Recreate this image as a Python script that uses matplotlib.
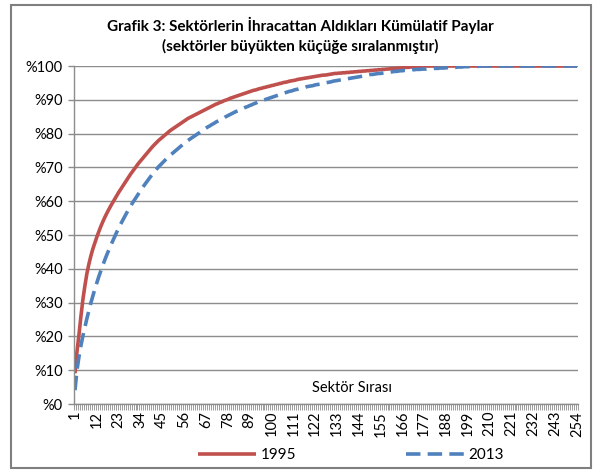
import matplotlib
matplotlib.use("Agg")
import matplotlib.pyplot as plt
from matplotlib.patches import Rectangle
from matplotlib.ticker import FixedLocator, FuncFormatter

# cumulative export share (%) by sector rank, sectors sorted large -> small
shares_1995 = [
    9.1, 15.5, 20.5, 26.0, 31.0, 35.0, 38.6, 41.4, 43.8, 45.9,
    47.7, 49.4, 51.0, 52.5, 53.9, 55.2, 56.4, 57.5, 58.6, 59.6,
    60.6, 61.6, 62.6, 63.5, 64.4, 65.3, 66.2, 67.1, 68.0, 68.8,
    69.6, 70.4, 71.2, 71.9, 72.6, 73.3, 74.0, 74.7, 75.4, 76.1,
    76.7, 77.3, 77.9, 78.4, 78.9, 79.4, 79.9, 80.4, 80.9, 81.3,
    81.7, 82.1, 82.5, 82.9, 83.3, 83.7, 84.1, 84.5, 84.8, 85.1,
    85.4, 85.7, 86.0, 86.3, 86.6, 86.9, 87.2, 87.5, 87.8, 88.1,
    88.4, 88.7, 88.9, 89.2, 89.4, 89.7, 89.9, 90.1, 90.4, 90.6,
    90.8, 91.0, 91.2, 91.4, 91.6, 91.8, 92.0, 92.2, 92.4, 92.6,
    92.8, 92.9, 93.1, 93.3, 93.4, 93.6, 93.7, 93.9, 94.0, 94.2,
    94.3, 94.5, 94.6, 94.8, 94.9, 95.1, 95.2, 95.3, 95.5, 95.6,
    95.7, 95.8, 96.0, 96.1, 96.2, 96.3, 96.4, 96.5, 96.6, 96.7,
    96.8, 96.9, 97.0, 97.1, 97.2, 97.3, 97.3, 97.4, 97.5, 97.6,
    97.7, 97.8, 97.8, 97.9, 97.9, 98.0, 98.0, 98.1, 98.1, 98.2,
    98.2, 98.3, 98.3, 98.4, 98.4, 98.5, 98.5, 98.6, 98.6, 98.7,
    98.7, 98.8, 98.8, 98.9, 98.9, 99.0, 99.0, 99.1, 99.1, 99.2,
    99.2, 99.3, 99.3, 99.4, 99.4, 99.5, 99.5, 99.6, 99.6, 99.7,
    99.7, 99.8, 99.8, 99.9, 99.9, 100.0, 100.0, 100.0, 100.0, 100.0,
    100.0, 100.0, 100.0, 100.0, 100.0, 100.0, 100.0, 100.0, 100.0, 100.0,
    100.0, 100.0, 100.0, 100.0, 100.0, 100.0, 100.0, 100.0, 100.0, 100.0,
    100.0, 100.0, 100.0, 100.0, 100.0, 100.0, 100.0, 100.0, 100.0, 100.0,
    100.0, 100.0, 100.0, 100.0, 100.0, 100.0, 100.0, 100.0, 100.0, 100.0,
    100.0, 100.0, 100.0, 100.0, 100.0, 100.0, 100.0, 100.0, 100.0, 100.0,
    100.0, 100.0, 100.0, 100.0, 100.0, 100.0, 100.0, 100.0, 100.0, 100.0,
    100.0, 100.0, 100.0, 100.0, 100.0, 100.0, 100.0, 100.0, 100.0, 100.0,
    100.0, 100.0, 100.0, 100.0,
]

shares_2013 = [
    4.1, 10.0, 14.0, 17.3, 20.2, 22.8, 25.3, 27.6, 29.9, 32.0,
    34.0, 35.9, 37.7, 39.4, 41.0, 42.6, 44.1, 45.5, 46.9, 48.2,
    49.5, 50.8, 52.0, 53.2, 54.3, 55.4, 56.5, 57.5, 58.5, 59.5,
    60.4, 61.3, 62.2, 63.1, 64.0, 64.8, 65.6, 66.4, 67.2, 68.0,
    68.7, 69.4, 70.1, 70.7, 71.3, 71.9, 72.5, 73.1, 73.6, 74.1,
    74.6, 75.1, 75.6, 76.1, 76.6, 77.1, 77.6, 78.0, 78.4, 78.8,
    79.2, 79.6, 80.0, 80.4, 80.8, 81.2, 81.6, 82.0, 82.3, 82.7,
    83.0, 83.4, 83.7, 84.0, 84.3, 84.6, 85.0, 85.3, 85.6, 85.9,
    86.2, 86.5, 86.7, 87.0, 87.3, 87.5, 87.8, 88.0, 88.3, 88.5,
    88.8, 89.0, 89.3, 89.5, 89.7, 89.9, 90.1, 90.3, 90.5, 90.7,
    90.9, 91.1, 91.3, 91.5, 91.7, 91.9, 92.1, 92.3, 92.5, 92.6,
    92.8, 93.0, 93.1, 93.3, 93.5, 93.6, 93.7, 93.9, 94.0, 94.1,
    94.2, 94.4, 94.5, 94.6, 94.7, 94.9, 95.0, 95.1, 95.2, 95.3,
    95.5, 95.6, 95.7, 95.8, 95.9, 96.0, 96.1, 96.2, 96.3, 96.4,
    96.5, 96.6, 96.7, 96.8, 96.9, 97.0, 97.2, 97.3, 97.4, 97.5,
    97.5, 97.6, 97.7, 97.8, 97.8, 97.9, 98.0, 98.1, 98.1, 98.2,
    98.3, 98.4, 98.4, 98.5, 98.6, 98.6, 98.7, 98.7, 98.8, 98.8,
    98.9, 98.9, 99.0, 99.0, 99.0, 99.1, 99.1, 99.1, 99.2, 99.2,
    99.2, 99.3, 99.3, 99.3, 99.4, 99.4, 99.4, 99.5, 99.5, 99.5,
    99.6, 99.6, 99.6, 99.7, 99.7, 99.7, 99.8, 99.8, 99.8, 99.8,
    99.9, 99.9, 99.9, 99.9, 100.0, 100.0, 100.0, 100.0, 100.0, 100.0,
    100.0, 100.0, 100.0, 100.0, 100.0, 100.0, 100.0, 100.0, 100.0, 100.0,
    100.0, 100.0, 100.0, 100.0, 100.0, 100.0, 100.0, 100.0, 100.0, 100.0,
    100.0, 100.0, 100.0, 100.0, 100.0, 100.0, 100.0, 100.0, 100.0, 100.0,
    100.0, 100.0, 100.0, 100.0, 100.0, 100.0, 100.0, 100.0, 100.0, 100.0,
    100.0, 100.0, 100.0, 100.0,
]

ranks = list(range(1, len(shares_1995) + 1))
rank_labels = list(range(1, len(ranks) + 1, 11))   # 1, 12, 23, ... 254
y_ticks = list(range(0, 101, 10))

title = "Grafik 3: Sektörlerin İhracattan Aldıkları Kümülatif Paylar\n(sektörler büyükten küçüğe sıralanmıştır)"
x_title = "Sektör Sırası"

RED = "#C0504D"
BLUE = "#4F81BD"
GRID = "#8C8C8C"

plt.rcParams["font.family"] = ["Lato", "DejaVu Sans"]

fig = plt.figure(figsize=(6.0, 4.73), dpi=100)
ax = fig.add_axes([74 / 600, 1 - 404 / 473, 504 / 600, 338 / 473])

ax.plot(ranks, shares_1995, color=RED, lw=2.6, label="1995", solid_capstyle="butt")
ax.plot(ranks, shares_2013, color=BLUE, lw=2.6, dashes=(4, 2), label="2013",
        dash_capstyle="butt")

ax.set_xlim(0.5, len(ranks) + 0.5)
ax.set_ylim(0, 100)

ax.yaxis.set_major_locator(FixedLocator(y_ticks))
ax.yaxis.set_major_formatter(FuncFormatter(lambda v, p: f"%{int(v)}"))
ax.grid(axis="y", color=GRID, lw=1)
ax.set_axisbelow(True)

ax.xaxis.set_major_locator(FixedLocator(rank_labels))
ax.xaxis.set_minor_locator(FixedLocator([r + 0.5 for r in [0] + ranks]))
ax.tick_params(axis="x", which="major", length=0, labelrotation=90, labelsize=10.5, pad=5)
ax.tick_params(axis="x", which="minor", length=4, width=0.6, color=GRID)
ax.tick_params(axis="y", length=4, width=1, color=GRID, labelsize=10.5, pad=4)

for side in ["top", "right"]:
    ax.spines[side].set_visible(False)
for side in ["left", "bottom"]:
    ax.spines[side].set_color(GRID)
    ax.spines[side].set_linewidth(1)

ax.text(0.552, 0.047, x_title, transform=ax.transAxes, ha="center", va="center", fontsize=10.5)

fig.text(0.5, 0.925, title, ha="center", va="center", fontsize=11,
         fontweight="bold", linespacing=1.4)

fig.legend(loc="center", bbox_to_anchor=(0.585, 0.038), ncol=2, frameon=False,
           handlelength=3.8, columnspacing=7.2, fontsize=11, handletextpad=0.3)

fig.patches.append(Rectangle((11 / 600, 1 - 468 / 473), 580 / 600, 463 / 473,
                             transform=fig.transFigure, fill=False,
                             edgecolor="#7F7F7F", lw=1.5))

fig.savefig("out.png", dpi=100)
